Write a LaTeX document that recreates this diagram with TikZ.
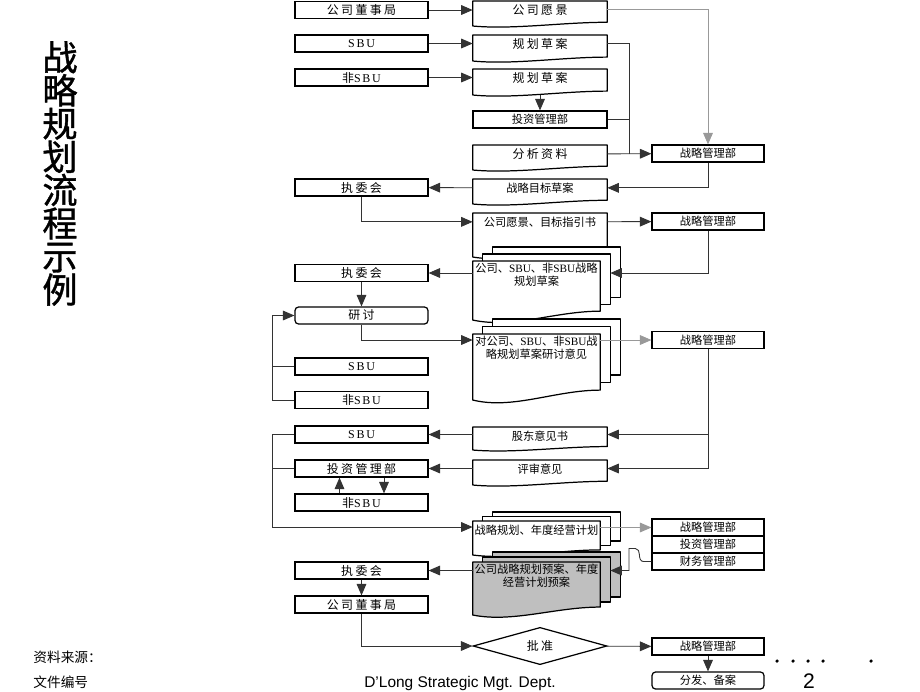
\documentclass[tikz,border=0pt]{standalone}
\usepackage{fontspec}
\setmainfont{Liberation Serif}
\setsansfont{Liberation Sans}
\newfontfamily\cjk{Noto Sans CJK SC}
\newfontfamily\cjkhead{Noto Sans CJK SC}[FakeBold=1.2]
\newfontfamily\cjksp{Noto Sans CJK SC}[LetterSpace=20]
\newfontfamily\latinsp{Liberation Serif}[LetterSpace=15]
\usetikzlibrary{arrows.meta}
\usetikzlibrary{calc}
\usetikzlibrary{shapes.geometric}
\pgfdeclarelayer{background}
\pgfsetlayers{background,main}
\tikzstyle{box}=[draw, line width=0.7pt, minimum width=2.66cm, minimum height=0.34cm, inner sep=0pt, font=\cjksp\fontsize{6.8}{7.5}\selectfont]
\tikzstyle{dept}=[draw, line width=0.7pt, minimum width=2.24cm, minimum height=0.34cm, inner sep=0pt, font=\cjk\fontsize{6.4}{7.5}\selectfont]
\tikzstyle{doc}=[minimum width=2.68cm, minimum height=0.34cm, inner sep=0pt, anchor=north, font=\cjk\fontsize{6.4}{7.5}\selectfont]
\tikzstyle{wide}=[font=\cjksp\fontsize{6.8}{7.5}\selectfont]
\tikzstyle{multi}=[doc, minimum width=2.54cm, align=center, inner ysep=1pt]
\tikzstyle{docline}=[line width=0.7pt, line join=round]
\tikzstyle{wire}=[draw=black!80, line width=0.5pt]
\tikzstyle{flow}=[wire, -{Triangle[length=6.5pt,width=5.5pt]}]
\tikzstyle{faint}=[draw=black!40]
\newcommand{\sbu}{{\rmfamily SBU}}
\newcommand{\docshape}[3][fill=white]{%
  \begin{pgfonlayer}{background}
    \draw[docline,#1] (#2.north west) -- (#2.north east)
      -- ($(#2.north east)+(0,0.85*#3)$)
      .. controls ($(#2.north east)+(-45,0.85*#3)$) and ($(#2.north west)+(40,1.15*#3)$)
      .. ($(#2.north west)+(0,#3)$) -- cycle;
  \end{pgfonlayer}}
\newcommand{\multidoc}[4][fill=white]{%
  \begin{pgfonlayer}{background}
    \draw[docline,#1] ($(#2.north west)+(20,-2*#4)$) rectangle ($(#2.north east)+(20,0.85*#3-2*#4)$);
    \draw[docline,#1] ($(#2.north west)+(10,-#4)$) rectangle ($(#2.north east)+(10,0.85*#3-#4)$);
  \end{pgfonlayer}
  \docshape[#1]{#2}{#3}}

\begin{document}
\begin{tikzpicture}[x=0.02cm, y=-0.02cm]
      \useasboundingbox (0,0) rectangle (920,691);

      \node[font=\cjkhead\fontsize{20}{18.9}\selectfont, align=center, inner sep=0pt] (title) at (60,173.5) {战\\略\\规\\划\\流\\程\\示\\例};

      \node[box] (board) at (361.5,10) {公司董事局};
      \node[box] (sbuA) at (361.5,43.5) {{\latinsp SBU}};
      \node[box] (nsbuA) at (361.5,77.5) {非{\latinsp SBU}};
      \node[box] (execA) at (361.5,187.5) {执委会};
      \node[box] (execB) at (361.5,273) {执委会};
      \node[box, rounded corners=2pt] (talk) at (361.5,315.5) {研讨};
      \node[box] (sbuB) at (361.5,366.5) {{\latinsp SBU}};
      \node[box] (nsbuB) at (361.5,400) {非{\latinsp SBU}};
      \node[box] (sbuC) at (361.5,434.5) {{\latinsp SBU}};
      \node[box] (invC) at (361.5,468.5) {投资管理部};
      \node[box] (nsbuC) at (361.5,502.5) {非{\latinsp SBU}};
      \node[box] (execC) at (361.5,570.5) {执委会};
      \node[box] (boardB) at (361.5,604.5) {公司董事局};

      \node[doc, wide] (vision) at (540,1) {公司愿景};
      \node[doc, wide] (draftA) at (540,35) {规划草案};
      \node[doc, wide] (draftB) at (540,69) {规划草案};
      \node[dept, minimum width=2.68cm] (invA) at (540,119.5) {投资管理部};
      \node[doc, wide] (data) at (540,145) {分析资料};
      \node[doc] (goal) at (540,179) {战略目标草案};
      \node[doc] (guide) at (540,213) {公司愿景、目标指引书};
      \node[multi] (drafts) at (536.5,261) {公司、\sbu、非\sbu 战略\\规划草案};
      \node[multi] (remarks) at (536.5,334) {对公司、\sbu、非\sbu 战\\略规划草案研讨意见};
      \node[doc] (holder) at (540,427) {股东意见书};
      \node[doc] (audit) at (540,460) {评审意见};
      \node[multi] (yearplan) at (536.5,521) {战略规划、年度经营计划};
      \node[multi] (prelim) at (536.5,562) {公司战略规划预案、年度\\经营计划预案};
      \node[draw, diamond, line width=0.7pt, minimum width=2.68cm, minimum height=0.66cm, inner sep=0pt, wide] (approve) at (540,646) {批准};

      \docshape{vision}{25}
      \docshape{draftA}{26}
      \docshape{draftB}{26}
      \docshape{data}{25}
      \docshape{goal}{25}
      \docshape{guide}{44}
      \multidoc{drafts}{59}{7}
      \multidoc{remarks}{66}{7.5}
      \docshape{holder}{23}
      \docshape{audit}{25}
      \multidoc{yearplan}{34}{4.5}
      \multidoc[fill=gray!50]{prelim}{53}{5}

      \node[dept] (stratA) at (708,153.5) {战略管理部};
      \node[dept] (stratB) at (708,221.5) {战略管理部};
      \node[dept] (stratC) at (708,340) {战略管理部};
      \node[dept] (stratD) at (708,527.5) {战略管理部};
      \node[dept] (invD) at (708,544.5) {投资管理部};
      \node[dept] (finD) at (708,561.5) {财务管理部};
      \node[dept] (stratE) at (708,646.5) {战略管理部};
      \node[dept, rounded corners=2pt] (file) at (708,680.5) {分发、备案};

      \coordinate (busA) at (629,153.5);
      \coordinate (busB) at (272,315.5);
      \coordinate (busC) at (272,527);
      \coordinate (busD) at (629,548.5);
      \coordinate (draftsR) at ([xshift=0.2cm]drafts.east);
      \coordinate (prelimR) at ([xshift=0.2cm]prelim.east);

      \draw[flow] (board) -- (board -| vision.west);
      \draw[flow] (sbuA) -- (sbuA -| draftA.west);
      \draw[flow] (nsbuA) -- (nsbuA -| draftB.west);
      \draw[flow] ([yshift=-0.16cm]draftB.south) -- (invA);
      \draw[flow, faint] (vision.east) -| (stratA);
      \draw[wire] (draftA.east) -| (busA);
      \draw[wire] (invA.east) -- (invA.east -| busA);
      \draw[flow] (data.east) -- (stratA);
      \draw[flow] (stratA) |- (goal.east);
      \draw[flow] (goal) -- (execA);
      \draw[flow] (execA) |- (guide.west);
      \draw[flow] (guide) -- (stratB);
      \draw[flow] (stratB) |- (draftsR |- execB);
      \draw[flow] (drafts.west |- execB) -- (execB);
      \draw[flow] (execB) -- (talk);
      \draw[flow] (talk) |- (remarks.west |- stratC);
      \draw[flow, faint] (remarks.east |- stratC) -- (stratC);
      \draw[wire] (sbuB) -- (sbuB -| busB);
      \draw[flow] (nsbuB) -| (busB) -- (talk);
      \draw[flow] (stratC) |- (holder.east |- sbuC);
      \draw[flow] (stratC |- sbuC) |- (audit.east |- invC);
      \draw[flow] (holder.west |- sbuC) -- (sbuC);
      \draw[flow] (audit.west |- invC) -- (invC);
      \draw[flow] ([xshift=-0.44cm]nsbuC.north) -- ([xshift=-0.44cm]invC.south);
      \draw[flow] ([xshift=0.45cm]invC.south) -- ([xshift=0.45cm]nsbuC.north);
      \draw[flow] (sbuC) -| (busC) -- (busC -| yearplan.west);
      \draw[wire] (invC) -- (invC -| busC);
      \draw[flow, faint] (yearplan.east |- stratD) -- (stratD);
      \draw[flow] (finD.west) -- ++(-8,0) to[out=180, in=-90] ++(-4,-7) to[out=90, in=0] ++(-4,-6) -- (busD) |- (prelimR |- execC);
      \draw[flow] (prelim.west |- execC) -- (execC);
      \draw[flow] (execC) -- (boardB);
      \draw[flow] (boardB) |- (approve);
      \draw[flow] (approve) -- (stratE);
      \draw[flow] (stratE) -- (file);

      \node[font=\cjk\fontsize{7.8}{9}\selectfont, anchor=west, inner sep=0pt] (source) at (33,657) {资料来源：};
      \node[font=\cjk\fontsize{7.8}{9}\selectfont, anchor=west, inner sep=0pt] (docno) at (33,682) {文件编号};
      \node[font=\sffamily\fontsize{8.8}{10}\selectfont, inner sep=0pt] (footer) at (460,683) {D’Long Strategic Mgt. Dept.};
      \node[font=\sffamily\fontsize{12}{14}\selectfont, inner sep=0pt] (page) at (809,681) {2};
      \foreach \x in {777,793,808,823,871}
        \fill (\x,661) circle (1pt);
    \end{tikzpicture}
\end{document}
